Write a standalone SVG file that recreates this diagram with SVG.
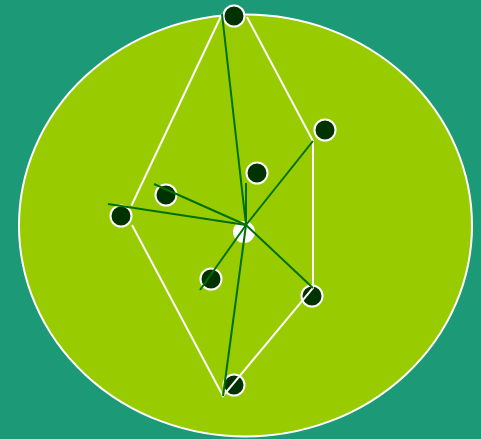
<svg xmlns="http://www.w3.org/2000/svg" width="481" height="439" viewBox="0 0 481 439">
<style>
.node{fill:#003300;stroke:#ffffff;stroke-width:2}
.edge{stroke:#007000;stroke-width:2;fill:none}
.hull{stroke:#ffffff;stroke-width:2;fill:none}
</style>
<rect width="481" height="439" fill="#1c9a78"/>
<ellipse cx="245.5" cy="225.5" rx="226.5" ry="211" fill="#99cc00" stroke="#ffffff" stroke-width="2"/>
<circle id="hub" cx="244" cy="232" r="11" fill="#ffffff"/>
<g id="n1"><circle class="node" cx="234" cy="16" r="10.5"/></g>
<g id="n2"><circle class="node" cx="325" cy="130" r="10.5"/></g>
<g id="n3"><circle class="node" cx="257" cy="173" r="10.5"/></g>
<g id="n4"><circle class="node" cx="166" cy="195" r="10.5"/></g>
<g id="n5"><circle class="node" cx="121" cy="216" r="10.5"/></g>
<g id="n6"><circle class="node" cx="211" cy="279" r="10.5"/></g>
<g id="n7"><circle class="node" cx="312" cy="296" r="10.5"/></g>
<g id="n8"><circle class="node" cx="234" cy="385" r="10.5"/></g>
<g id="connectors">
<polyline class="hull" points="247,17 313,141 313,288 223,396 132,225"/>
<polyline class="hull" points="131.5,205.5 222,14"/>
<line class="edge" x1="246" y1="225" x2="222" y2="14"/>
<line class="edge" x1="246" y1="225" x2="313" y2="141"/>
<line class="edge" x1="246" y1="225" x2="313" y2="288"/>
<line class="edge" x1="246" y1="225" x2="223" y2="396"/>
<line class="edge" x1="246" y1="225" x2="200" y2="290"/>
<line class="edge" x1="246" y1="225" x2="108" y2="204"/>
<line class="edge" x1="246" y1="225" x2="154" y2="184"/>
<line class="edge" x1="246" y1="225" x2="246" y2="183"/>
</g>
</svg>
